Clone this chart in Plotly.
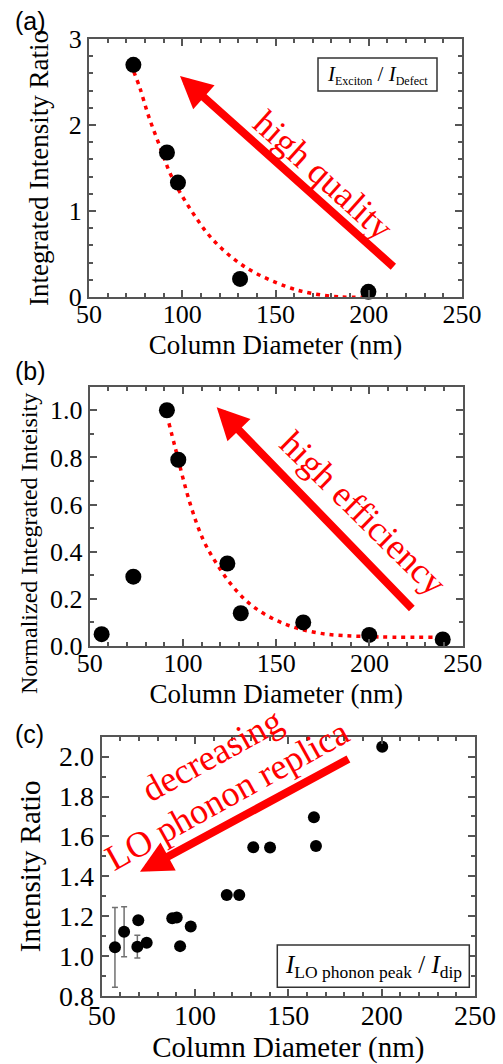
import math
import plotly.graph_objects as go

# ---------------- data ----------------
# (a) integrated intensity ratio I_Exciton / I_Defect
a_diam = [73.8, 91.8, 97.7, 131.0, 199.8]
a_ratio = [2.70, 1.68, 1.33, 0.21, 0.06]
a_fit_x = [74, 77.3, 82, 88, 94.3, 104.7, 116.7, 133.6, 156, 170, 185, 198]
a_fit_y = [2.62, 2.43, 2.10, 1.75, 1.40, 1.01, 0.66, 0.35, 0.12, 0.04, 0.0, 0.0]

# (b) normalized integrated intensity
b_diam = [56.4, 73.4, 91.4, 97.5, 123.8, 131.0, 164.5, 199.9, 239.3]
b_int = [0.05, 0.294, 1.0, 0.79, 0.35, 0.139, 0.10, 0.047, 0.028]
b_fit_x = [92.5, 95.7, 103.8, 110.9, 118, 127, 137.7, 153.8, 173.5, 198.5, 234]
b_fit_y = [0.945, 0.846, 0.605, 0.45, 0.35, 0.25, 0.167, 0.096, 0.054, 0.04, 0.037]

# (c) intensity ratio I_LO phonon peak / I_dip
c_diam = [57.1, 62.0, 69.6, 69.1, 74.1, 87.8, 90.2, 92.0, 97.7, 117.0, 123.7,
          131.2, 140.2, 163.7, 164.8, 200.3]
c_ratio = [1.044, 1.122, 1.18, 1.047, 1.067, 1.19, 1.193, 1.05, 1.148, 1.306,
           1.306, 1.546, 1.544, 1.696, 1.552, 2.05]
nan = float("nan")
c_err = [0.20, 0.125, nan, 0.057, nan, nan, nan, nan, nan, nan, nan,
         nan, nan, nan, nan, nan]

x_ticks = [50, 100, 150, 200, 250]

SERIF = "Liberation Serif"
SANS = "Liberation Sans"
RED = "#ff0000"
FRAME = "#555555"
W, H = 503, 1064

fig = go.Figure()

fig.add_trace(go.Scatter(x=a_fit_x, y=a_fit_y, mode="lines", line_shape="spline",
                         line=dict(color=RED, width=3.5, dash="4px,5px"),
                         xaxis="x", yaxis="y", showlegend=False))
fig.add_trace(go.Scatter(x=a_diam, y=a_ratio, mode="markers",
                         marker=dict(color="black", size=16), cliponaxis=False,
                         xaxis="x", yaxis="y", showlegend=False))

fig.add_trace(go.Scatter(x=b_fit_x, y=b_fit_y, mode="lines", line_shape="spline",
                         line=dict(color=RED, width=3.5, dash="4px,5px"),
                         xaxis="x2", yaxis="y2", showlegend=False))
fig.add_trace(go.Scatter(x=b_diam, y=b_int, mode="markers",
                         marker=dict(color="black", size=16), cliponaxis=False,
                         xaxis="x2", yaxis="y2", showlegend=False))

fig.add_trace(go.Scatter(x=c_diam, y=c_ratio, mode="markers",
                         marker=dict(color="black", size=12), cliponaxis=False,
                         error_y=dict(type="data", array=c_err, visible=True,
                                      color="#707070", thickness=1.5, width=3),
                         xaxis="x3", yaxis="y3", showlegend=False))


def ax(**kw):
    d = dict(showline=True, linecolor=FRAME, linewidth=2, mirror="allticks",
             ticks="inside", ticklen=7, tickwidth=1.5, tickcolor=FRAME,
             showgrid=False, zeroline=False, automargin=False,
             tickfont=dict(family=SERIF, size=26, color="black"))
    d.update(kw)
    return d


def px_x(p):
    return p / W


def px_y(p):
    return 1 - p / H


fig.update_layout(
    width=W, height=H,
    margin=dict(l=0, r=0, t=0, b=0),
    paper_bgcolor="white", plot_bgcolor="white",
    xaxis=ax(domain=[px_x(89), px_x(462)], anchor="y", range=[50, 250], tickvals=x_ticks,
             ticklabelstandoff=-7,
             minor=dict(ticks="inside", ticklen=4, dtick=10, tickcolor=FRAME),
             title=dict(text="Column Diameter (nm)", standoff=7,
                        font=dict(family=SERIF, size=27, color="black"))),
    yaxis=ax(domain=[px_y(297), px_y(39)], anchor="x", range=[0, 3], dtick=1,
             minor=dict(ticks="inside", ticklen=4, dtick=0.2, tickcolor=FRAME),
             title=dict(text="Integrated Intensity Ratio", standoff=12,
                        font=dict(family=SERIF, size=27, color="black"))),
    xaxis2=ax(domain=[px_x(89.7), px_x(462.7)], anchor="y2", range=[50, 250], tickvals=x_ticks,
              ticklabelstandoff=-7,
              minor=dict(ticks="inside", ticklen=4, dtick=10, tickcolor=FRAME),
              title=dict(text="Column Diameter (nm)", standoff=7,
                         font=dict(family=SERIF, size=27, color="black"))),
    yaxis2=ax(domain=[px_y(646), px_y(386.7)], anchor="x2", range=[0, 1.1], dtick=0.2,
              tickformat=".1f",
              minor=dict(ticks="inside", ticklen=4, dtick=0.1, tickcolor=FRAME)),
    xaxis3=ax(domain=[px_x(101.7), px_x(475)], anchor="y3", range=[50, 250], tickvals=x_ticks,
              ticklabelstandoff=-7,
              tickfont=dict(family=SERIF, size=28, color="black"),
              minor=dict(ticks="inside", ticklen=4, dtick=10, tickcolor=FRAME),
              title=dict(text="Column Diameter (nm)", standoff=7,
                         font=dict(family=SERIF, size=29, color="black"))),
    yaxis3=ax(domain=[px_y(996), px_y(736.7)], anchor="x3", range=[0.8, 2.1], dtick=0.2,
              tickformat=".1f",
              tickfont=dict(family=SERIF, size=28, color="black"),
              minor=dict(ticks="inside", ticklen=4, dtick=0.1, tickcolor=FRAME),
              title=dict(text="Intensity Ratio", standoff=10,
                         font=dict(family=SERIF, size=29, color="black"))),
)

# y title of panel (b), placed like the original (offset below the plot centre)
fig.add_annotation(x=px_x(29), y=px_y(544), xref="paper", yref="paper",
                   xanchor="center", yanchor="middle", textangle=-90,
                   text="Normalized Integrated Inteisity", showarrow=False,
                   font=dict(family=SERIF, size=24, color="black"))

# arrows
arrow = dict(showarrow=True, arrowhead=2, arrowsize=0.8, arrowwidth=8,
             arrowcolor=RED, text="")
fig.add_annotation(x=98.8, y=2.57, ax=214, ay=0.337, xref="x", yref="y",
                   axref="x", ayref="y", **arrow)
fig.add_annotation(x=118.1, y=1.013, ax=223.5, ay=0.153, xref="x2", yref="y2",
                   axref="x2", ayref="y2", **arrow)
fig.add_annotation(x=70.5, y=1.423, ax=183, ay=1.992, xref="x3", yref="y3",
                   axref="x3", ayref="y3", **arrow)

redfont = dict(family=SERIF, size=36, color=RED)
fig.add_annotation(x=175.6, y=1.42, xref="x", yref="y", text="high quality",
                   textangle=42, showarrow=False, font=redfont)
fig.add_annotation(x=196.5, y=0.563, xref="x2", yref="y2", text="high efficiency",
                   textangle=44.5, showarrow=False, font=redfont)
fig.add_annotation(x=109.1, y=2.009, xref="x3", yref="y3", text="decreasing",
                   textangle=-29, showarrow=False, font=redfont)
fig.add_annotation(x=117.3, y=1.808, xref="x3", yref="y3", text="LO phonon replica",
                   textangle=-29, showarrow=False, font=redfont)

# panel labels
for lab, yy in [("(a)", 21), ("(b)", 371), ("(c)", 734)]:
    fig.add_annotation(x=px_x(13), y=px_y(yy), xref="paper", yref="paper",
                       xanchor="left", yanchor="middle", text=lab, showarrow=False,
                       font=dict(family=SANS, size=25, color="black"))

# legend boxes
fig.add_shape(type="rect", xref="paper", yref="paper",
              x0=px_x(318), x1=px_x(437), y0=px_y(91), y1=px_y(58),
              line=dict(color="#333333", width=1.5), fillcolor="white")
fig.add_annotation(x=px_x(377.5), y=px_y(75), xref="paper", yref="paper",
                   xanchor="center", yanchor="middle",
                   text="<i>I</i><sub><span style='font-size:12px'>Exciton</span></sub>"
                        " / <i>I</i><sub><span style='font-size:12px'>Defect</span></sub>",
                   showarrow=False, font=dict(family=SERIF, size=21, color="black"))

fig.add_shape(type="rect", xref="paper", yref="paper",
              x0=px_x(277.3), x1=px_x(469.3), y0=px_y(987.3), y1=px_y(945),
              line=dict(color="#333333", width=1.5), fillcolor="white")
fig.add_annotation(x=px_x(373.3), y=px_y(966), xref="paper", yref="paper",
                   xanchor="center", yanchor="middle",
                   text="<i>I</i><sub>LO phonon peak</sub> / <i>I</i><sub>dip</sub>",
                   showarrow=False, font=dict(family=SERIF, size=25, color="black"))

fig.write_html("out.html", config={"displayModeBar": False},
               post_script="document.body.style.margin='0px';")
